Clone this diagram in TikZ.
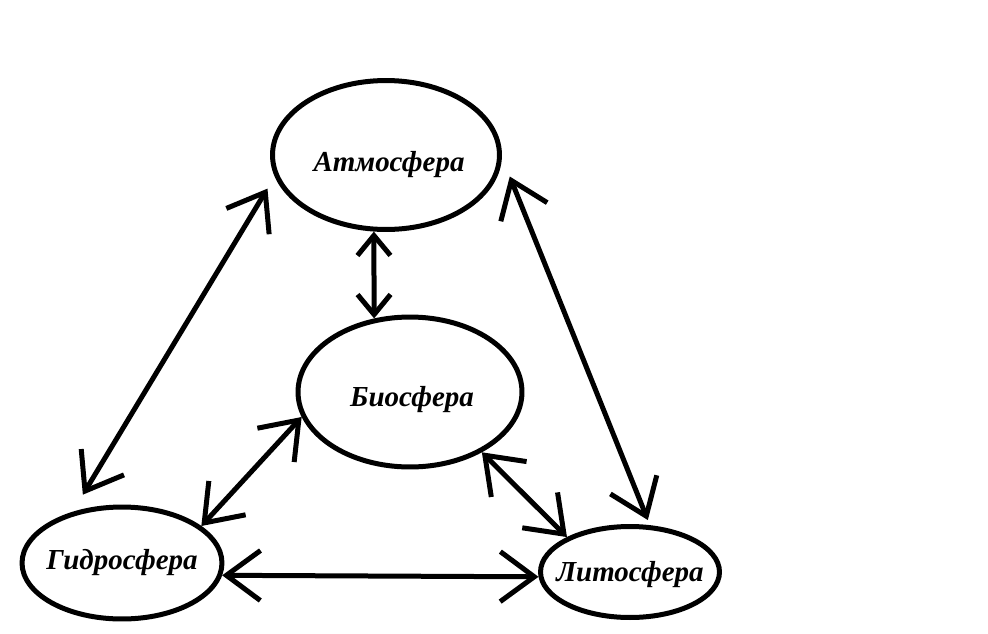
\documentclass[tikz,border=0pt]{standalone}
\usepackage{fontspec}
\setmainfont{Liberation Serif}
\usetikzlibrary{shapes.geometric, arrows.meta}

\begin{document}
\begin{tikzpicture}[x=0.02cm, y=-0.02cm, line width=0.1cm,
    sphere/.style={draw, ellipse, inner sep=0pt},
    sphname/.style={font=\fontsize{16.5}{16.5}\selectfont\bfseries\itshape},
    link/.style={{Straight Barb[length=0.68cm,width=1.0cm]}-{Straight Barb[length=0.68cm,width=1.0cm]}},
    shortlink/.style={{Straight Barb[length=0.4cm,width=0.66cm]}-{Straight Barb[length=0.4cm,width=0.66cm]}}]
    \useasboundingbox (0,0) rectangle (988,633);
    % Spheres
    \node[sphere, minimum width=4.54cm, minimum height=2.98cm,
        label={[sphname, xshift=0.06cm, yshift=-0.2cm]center:Атмосфера}] (atm) at (386,155) {};
    \node[sphere, minimum width=4.48cm, minimum height=3.0cm,
        label={[sphname, xshift=0.04cm, yshift=-0.16cm]center:Биосфера}] (bio) at (410,392) {};
    \node[sphere, minimum width=4.0cm, minimum height=2.24cm,
        label={[sphname]center:Гидросфера}] (gid) at (122,563) {};
    \node[sphere, minimum width=3.58cm, minimum height=1.82cm,
        label={[sphname, yshift=-0.05cm]center:Литосфера}] (lit) at (630,572) {};
    % Two-way links
    \draw[shortlink] (atm.-99.6) -- (bio.116.6);
    \foreach \a/\b in {bio.193.9/gid.25.6, bio.-40/lit.151.9, gid.-7.7/lit.183.2} {
        \draw[link] (\a) -- (\b);
    }
    \draw[link, shorten <=0.28cm, shorten >=0.4cm] (atm.191.7) -- (gid.134.3);
    \draw[link, shorten <=0.42cm, shorten >=0.11cm] (atm.-1.7) -- (lit.67);
\end{tikzpicture}
\end{document}
